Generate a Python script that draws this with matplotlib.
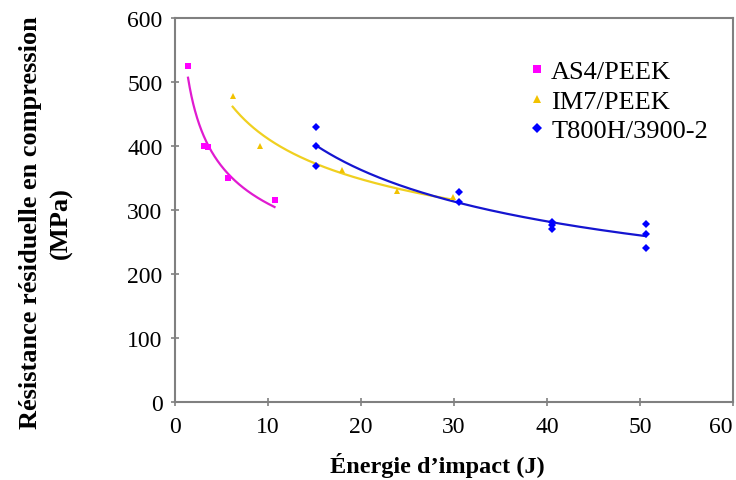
import numpy as np
import matplotlib
matplotlib.use("Agg")
import matplotlib.pyplot as plt

plt.rcParams['font.family'] = ['Liberation Serif', 'DejaVu Serif']

# Data
as4_x = [1.4, 3.1, 3.5, 5.7, 10.7]
as4_y = [525, 400, 398, 350, 315]
im7_x = [6.2, 9.1, 18.0, 23.9, 29.9]
im7_y = [478, 400, 362, 330, 320]
t800_x = [15.2, 15.2, 15.2, 30.5, 30.5, 40.5, 40.5, 40.5, 50.6, 50.6, 50.6]
t800_y = [430, 400, 368, 328, 313, 282, 276, 271, 278, 263, 240]

series = [
    ("AS4/PEEK", as4_x, as4_y, "#ff00ff", "#e01bd0", "s", 5),
    ("IM7/PEEK", im7_x, im7_y, "#f2c200", "#f0d020", "^", 5),
    ("T800H/3900-2", t800_x, t800_y, "#0000ff", "#1515d0", "D", 4),
]

W, H = 736, 481
fig = plt.figure(figsize=(W / 100, H / 100), dpi=100)
left, right, top, bottom = 175, 733, 19, 403
ax = fig.add_axes([left / W, 1 - bottom / H, (right - left) / W, (bottom - top) / H])

for name, xs, ys, mc, lc, mk, ms in series:
    xs = np.array(xs); ys = np.array(ys)
    b, a = np.polyfit(np.log(xs), np.log(ys), 1)
    xf = np.linspace(xs.min(), xs.max(), 200)
    ax.plot(xf, np.exp(a) * xf ** b, color=lc, lw=1.6, zorder=2)
    ax.plot(xs, ys, linestyle='none', marker=mk, color=mc, markersize=ms,
            markeredgewidth=0, label=name, zorder=3)

ax.set_xlim(0, 60)
ax.set_ylim(0, 600)
ax.set_xticks(range(0, 61, 10))
ax.set_yticks(range(0, 601, 100))
ax.tick_params(labelsize=17, direction='inout', length=6, width=1.2,
               color='#808080', pad=6)
ax.tick_params(axis='x', pad=7)
ax.xaxis.get_major_ticks()[-1].label1.set_horizontalalignment('right')
for s in ax.spines.values():
    s.set_color('#808080')
    s.set_linewidth(1.5)

ax.set_xlabel("Énergie d’impact (J)", fontsize=17.5, fontweight='bold', va='center')
ax.xaxis.set_label_coords(0.47, (bottom - 466) / (bottom - top))
ax.set_ylabel("Résistance résiduelle en compression\n(MPa)", fontsize=19,
              fontweight='bold', linespacing=1.45, va='center', ha='center')
ax.yaxis.set_label_coords((46 - left) / (right - left), (bottom - 223) / (bottom - top))

leg = ax.legend(loc='upper left', bbox_to_anchor=(530 / W, 1 - 61 / H),
                bbox_transform=fig.transFigure, frameon=False,
                fontsize=19, handlelength=0.5, handletextpad=0.3,
                labelspacing=0.22, markerscale=1.2, borderpad=0, borderaxespad=0)

fig.savefig("out.png", dpi=100)
